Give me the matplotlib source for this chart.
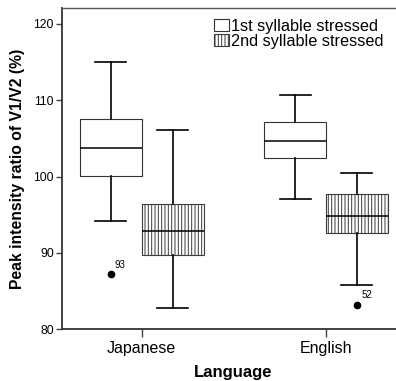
import matplotlib
matplotlib.use("Agg")
import matplotlib.pyplot as plt
from matplotlib.patches import Patch

plt.rcParams["font.family"] = ["Liberation Sans", "DejaVu Sans"]
plt.rcParams["hatch.linewidth"] = 0.7

# Box summaries per language and stress condition
languages = ["Japanese", "English"]
series = ["1st syllable stressed", "2nd syllable stressed"]

whislo = [[94.2, 97.1], [82.8, 85.8]]
q1 = [[100.1, 102.4], [89.7, 92.6]]
median = [[103.7, 104.7], [92.9, 94.8]]
q3 = [[107.5, 107.2], [96.4, 97.7]]
whishi = [[115.0, 110.7], [106.1, 100.4]]

# Outliers: (series index, language index, value, case label)
outlier_series = [0, 1]
outlier_lang = [0, 1]
outlier_value = [87.2, 83.2]
outlier_case = ["93", "52"]

yticks = [80, 90, 100, 110, 120]

fig = plt.figure(figsize=(3.96, 3.81), dpi=100)
ax = fig.add_axes([62 / 396, 1 - 329 / 381, (404 - 62) / 396, (329 - 8) / 381])

box_w = 0.336
hatches = ["", "|||||"]
edgecols = ["#333333", "#3a3a3a"]

for s in range(len(series)):
    stats = []
    positions = []
    for g in range(len(languages)):
        fl = [v for ss, gg, v in zip(outlier_series, outlier_lang, outlier_value)
              if ss == s and gg == g]
        stats.append(dict(med=median[s][g], q1=q1[s][g], q3=q3[s][g],
                          whislo=whislo[s][g], whishi=whishi[s][g], fliers=fl))
        positions.append(g + (s - 0.5) * box_w)
    bp = ax.bxp(stats, positions=positions, widths=box_w, patch_artist=True,
                boxprops=dict(facecolor="white", edgecolor=edgecols[s],
                              linewidth=0.8, hatch=hatches[s]),
                medianprops=dict(color="black", linewidth=1.1),
                whiskerprops=dict(color="black", linewidth=1.2),
                capprops=dict(color="black", linewidth=1.2),
                flierprops=dict(marker="o", markerfacecolor="black",
                                markeredgecolor="black", markersize=4.5))
    for b in bp["boxes"]:
        b.set_zorder(1)

for s, g, v, lab in zip(outlier_series, outlier_lang, outlier_value, outlier_case):
    x = g + (s - 0.5) * box_w
    ax.annotate(lab, (x, v), xytext=(3, 3), textcoords="offset points",
                fontsize=7, ha="left", va="bottom")

ax.set_xlim((62 - 141.7) / 184.3, (404 - 141.7) / 184.3)
ax.set_ylim(80, 120 + 16 / 7.625)
ax.set_xticks(range(len(languages)))
ax.set_xticklabels(languages, fontsize=11.5)
ax.set_yticks(yticks)
ax.set_yticklabels([str(t) for t in yticks], fontsize=8.7)
ax.tick_params(axis="x", direction="out", length=6, width=1, color="#444444", pad=3)
ax.tick_params(axis="y", direction="out", length=4, width=1, color="#444444", pad=2)

for side in ["left", "bottom"]:
    ax.spines[side].set_color("#333333")
    ax.spines[side].set_linewidth(1.3)
ax.spines["top"].set_color("#555555")
ax.spines["top"].set_linewidth(1.0)
ax.spines["right"].set_visible(False)

ax.set_xlabel("Language", fontsize=12, fontweight="bold", labelpad=6)
ax.set_ylabel("Peak intensity ratio of V1/V2 (%)", fontsize=11.3,
              fontweight="bold", labelpad=6)

handles = [Patch(facecolor="white", edgecolor=edgecols[s], linewidth=0.8,
                 hatch=hatches[s]) for s in range(len(series))]
fig.legend(handles, series, loc="upper left",
           bbox_to_anchor=(214 / 396, 1 - 19 / 381), frameon=False,
           fontsize=11.7, handlelength=0.9, handleheight=0.75,
           handletextpad=0.15, labelspacing=0.0, borderpad=0,
           borderaxespad=0)

fig.savefig("out.png", dpi=100)
